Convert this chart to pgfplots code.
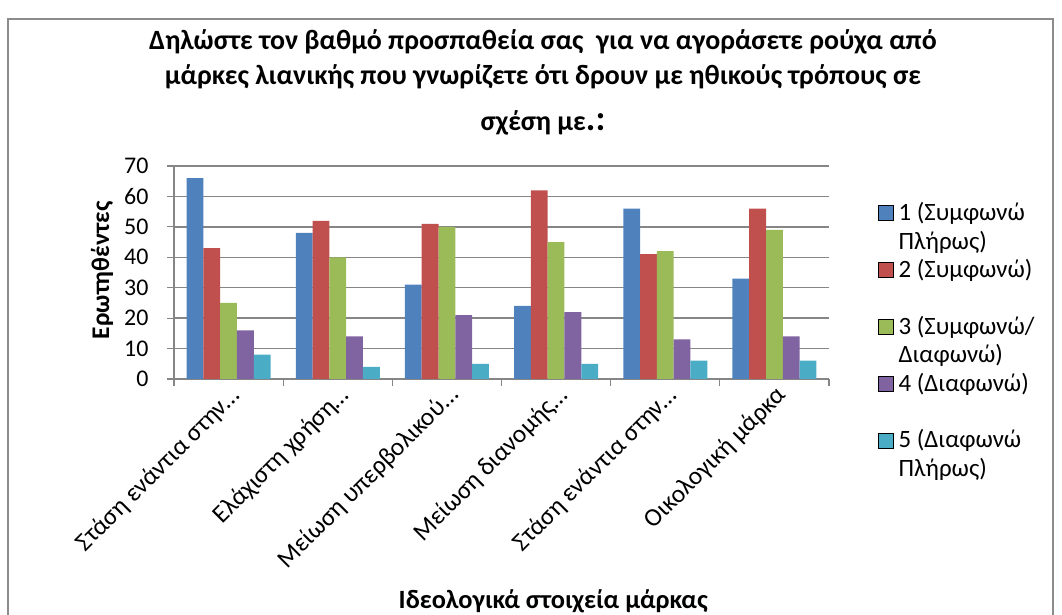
\documentclass[border=0pt]{standalone}
\usepackage{pgfplots}
\pgfplotsset{compat=1.18}
\usepackage{fontspec}
\setmainfont{Carlito}
\definecolor{c1}{HTML}{4F81BD}
\definecolor{c2}{HTML}{C0504D}
\definecolor{c3}{HTML}{9BBB59}
\definecolor{c4}{HTML}{8064A2}
\definecolor{c5}{HTML}{4BACC6}
\definecolor{gridc}{HTML}{868686}
\definecolor{framec}{HTML}{8C8C8C}
\pgfplotstableread{
x s1 s2 s3 s4 s5
0 66 43 25 16 8
1 48 52 40 14 4
2 31 51 50 21 5
3 24 62 45 22 5
4 56 41 42 13 6
5 33 56 49 14 6
}\datatable
\begin{document}
\begin{tikzpicture}[x=1bp,y=1bp]
\path[use as bounding box] (0,0) rectangle (1062,615);
\draw[framec, line width=1.2bp] (8,-2) -- (8,596) -- (1053,596) -- (1053,-2);
\node[font=\fontsize{28}{33}\selectfont\bfseries] at (543,573) {Δηλώστε τον βαθμό προσπαθεία σας\ \ για να αγοράσετε ρούχα από};
\node[font=\fontsize{28}{33}\selectfont\bfseries] at (543,538) {μάρκες λιανικής που γνωρίζετε ότι δρουν με ηθικούς τρόπους σε};
\node[font=\fontsize{28}{33}\selectfont\bfseries] at (543,492) {σχέση με{\fontsize{36}{36}\selectfont.:}};
\begin{axis}[
  at={(174bp,236bp)}, anchor=south west,
  scale only axis, width=655bp, height=213bp,
  xmin=-0.5, xmax=5.5, ymin=0, ymax=70,
  ybar=0pt, bar width=16.8bp,
  /pgf/number format/assume math mode=true,
  axis x line*=bottom, axis y line*=left,
  axis line style={gridc, line width=1.2bp},
  ymajorgrids, grid style={gridc, line width=1.4bp},
  tick align=outside, major tick length=7bp,
  tick style={gridc, line width=1.2bp},
  ytick={0,10,...,70},
  yticklabel style={font=\fontsize{24}{29}\selectfont, xshift=-15bp},
  xtick={-0.5,0.5,...,5.5}, xticklabels={},
  extra x ticks={0,1,2,3,4,5},
  extra x tick labels={Στάση ενάντια στην…,Ελάχιστη χρήση…,Μείωση υπερβολικού…,Μείωση διανομής…,Στάση ενάντια στην…,Οικολογική μάρκα},
  extra x tick style={major tick length=0pt, xticklabel style={rotate=45, anchor=north east, font=\fontsize{25.5}{30}\selectfont}},
  xlabel={Ιδεολογικά στοιχεία μάρκας},
  ylabel={Ερωτηθέντες},
  every axis x label/.style={at={(axis description cs:0.579,-1.042)}, anchor=center, font=\fontsize{26.5}{31}\selectfont\bfseries},
  every axis y label/.style={at={(axis description cs:-0.110,0.51)}, anchor=center, rotate=90, font=\fontsize{25.5}{30}\selectfont\bfseries},
  legend style={at={(1.0748,0.824)}, anchor=north west, draw=none, fill=none, inner sep=0pt,
    font=\fontsize{25}{30}\selectfont, row sep=5.4bp,
    nodes={inner xsep=5bp, inner ysep=0pt, text height=17bp, text depth=6bp}},
  legend cell align=left,
  legend image code/.code={\fill[#1] (0bp,-5.5bp) rectangle (15bp,9.5bp);},
]
\addplot[forget plot, fill=c1, draw=none, bar shift=-33.6bp] table[x=x,y=s1] {\datatable};
\addplot[forget plot, fill=c2, draw=none, bar shift=-16.8bp] table[x=x,y=s2] {\datatable};
\addplot[forget plot, fill=c3, draw=none, bar shift=0bp] table[x=x,y=s3] {\datatable};
\addplot[forget plot, fill=c4, draw=none, bar shift=16.8bp] table[x=x,y=s4] {\datatable};
\addplot[forget plot, fill=c5, draw=none, bar shift=33.6bp] table[x=x,y=s5] {\datatable};
\addlegendimage{fill=c1}\addlegendentry{1 (Συμφωνώ}
\addlegendimage{empty legend}\addlegendentry{Πλήρως)}
\addlegendimage{fill=c2}\addlegendentry{2 (Συμφωνώ)}
\addlegendimage{empty legend}\addlegendentry{}
\addlegendimage{fill=c3}\addlegendentry{3 (Συμφωνώ/}
\addlegendimage{empty legend}\addlegendentry{Διαφωνώ)}
\addlegendimage{fill=c4}\addlegendentry{4 (Διαφωνώ)}
\addlegendimage{empty legend}\addlegendentry{}
\addlegendimage{fill=c5}\addlegendentry{5 (Διαφωνώ}
\addlegendimage{empty legend}\addlegendentry{Πλήρως)}
\end{axis}
\end{tikzpicture}
\end{document}
